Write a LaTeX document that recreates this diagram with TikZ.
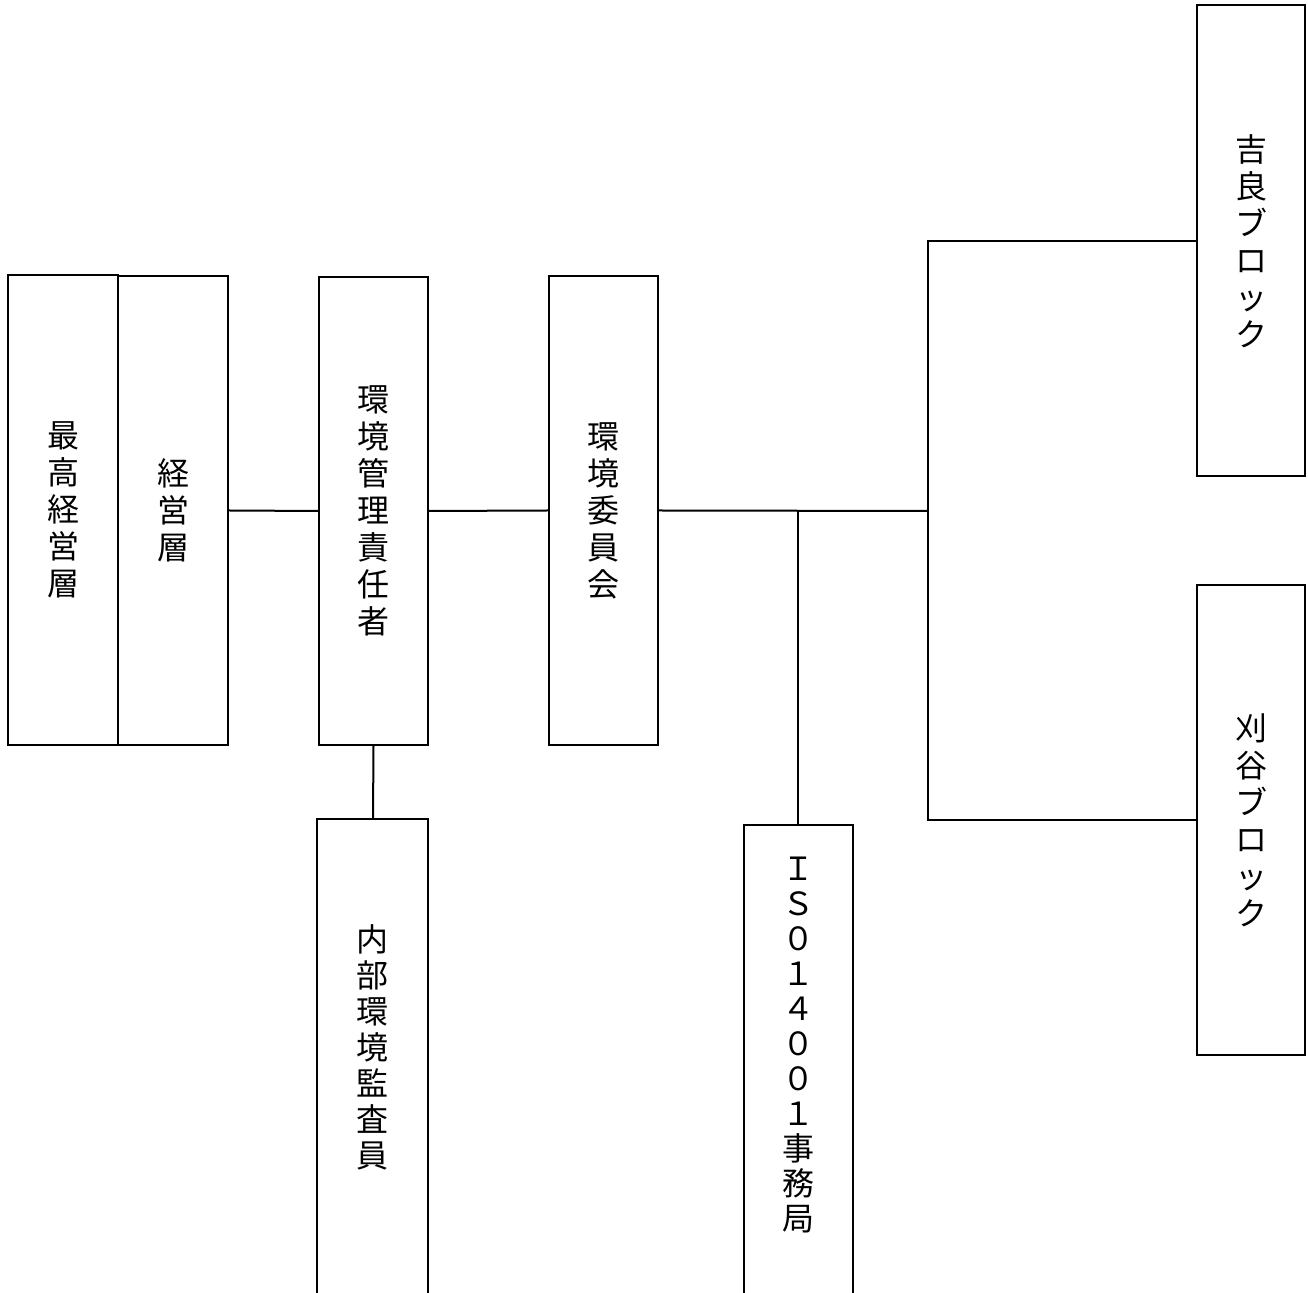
\documentclass[tikz,border=0pt]{standalone}
\usepackage{fontspec}
\newfontfamily\cjk{Noto Sans CJK JP}
\begin{document}
\begin{tikzpicture}[x=0.5pt,y=-0.5pt,
  vtext/.style={align=center,inner sep=0pt,font=\cjk\fontsize{16}{18.5}\selectfont},
  box/.style={draw,line width=1pt,rectangle,vtext,minimum width=#1},
  box/.default=55pt,
  conn/.style={draw,line width=1pt}]
\useasboundingbox (0,0) rectangle (1308,1293);
\clip (0,0) rectangle (1308,1293);
% boxes
\node[box=55pt,minimum height=235pt] (A) at (63,510) {最\\高\\経\\営\\層};
\node[box=55pt,minimum height=234.5pt] (B) at (173,510.5) {経\\営\\層};
\node[box=54.5pt,minimum height=234pt] (C) at (373.5,511) {環\\境\\管\\理\\責\\任\\者};
\node[box=54.5pt,minimum height=234.5pt] (D) at (603.5,510.5) {環\\境\\委\\員\\会};
\node[box=54pt,minimum height=235.5pt] (G) at (1251,241) {吉\\良\\ブ\\ロ\\ッ\\ク};
\node[box=54pt,minimum height=235pt] (H) at (1251,820) {刈\\谷\\ブ\\ロ\\ッ\\ク};
% open boxes at the bottom
\node[vtext,font=\cjk\fontsize{16}{18}\selectfont] (E) at (372.5,1047) {内\\部\\環\\境\\監\\査\\員};
\node[vtext,font=\cjk\fontsize{16}{17.5}\selectfont] (F) at (798.5,1045) {Ｉ\\Ｓ\\０\\１\\４\\０\\０\\１\\事\\務\\局};
\coordinate (Etop) at (373,819);
\coordinate (Ftop) at (798,825);
\draw[line width=1pt] (317,1310) |- (428,819) -- (428,1310);
\draw[line width=1pt] (744,1310) |- (853,825) -- (853,1310);
% connectors
\coordinate (J1) at (928,511);
\draw[conn] (B.east) -- (C.west);
\draw[conn] (C.east) -- (D.west);
\draw[conn] (D.east) -- (J1);
\draw[conn] (D.east -| Ftop) -- (Ftop);
\draw[conn] (C.south) -- (Etop);
\draw[conn] (G.west) -- (G.west -| J1) -- (H.west -| J1) -- (H.west);
\end{tikzpicture}
\end{document}
